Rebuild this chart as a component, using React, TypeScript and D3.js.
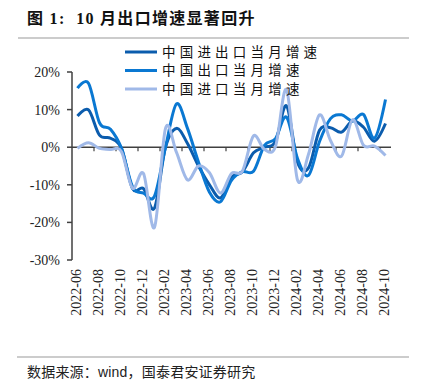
import React from "react";
import * as d3 from "d3";

const months = [
  "2022-06","2022-07","2022-08","2022-09","2022-10","2022-11","2022-12",
  "2023-01","2023-02","2023-03","2023-04","2023-05","2023-06","2023-07",
  "2023-08","2023-09","2023-10","2023-11","2023-12","2024-01","2024-02",
  "2024-03","2024-04","2024-05","2024-06","2024-07","2024-08","2024-09","2024-10",
];
// 中国进出口当月增速
const totalTrade = [8.3, 9.9, 3.2, 2.4, -0.3, -11, -11, -16.2, 0, 5, 1, -5, -10, -13.5, -8, -6.5, -1.5, 0, 1.5, 11, -4, -5.5, 4.5, 5.2, 4, 7, 5.3, 1.6, 6.3];
// 中国出口当月增速
const exportsYoY = [15.7, 17, 6.5, 4.8, -0.3, -10.5, -12.2, -13, 0, 11.5, 5, -4, -12, -14.5, -8.8, -6.5, -6.4, 0.5, 2.3, 8, -3, -7.5, 1.5, 7.6, 8.6, 7, 8.7, 2.4, 12.7];
// 中国进口当月增速
const importsYoY = [-0.3, 1.2, -0.3, -0.6, -1.2, -10.9, -7, -21.3, 5, -1.4, -8.7, -5, -6.8, -12.2, -7, -6.3, 3, -0.6, 0.2, 15.3, -8.7, -1.9, 8.6, 1.8, -2.4, 7.3, 0.5, 0.3, -2.2];
const yTicks = [20, 10, 0, -10, -20, -30];
const seriesNames = ["中国进出口当月增速", "中国出口当月增速", "中国进口当月增速"];
const seriesColors = ["#0B5CAD", "#0A78D2", "#A0B9E8"];

export default function App() {
  const W = 433, H = 380;
  const x = d3.scaleBand<string>().domain(months).range([72, 391]).padding(0);
  const y = d3.scaleLinear().domain([-30, 20]).range([260, 72]);
  const cx = (m: string) => (x(m) as number) + x.bandwidth() / 2;
  const line = d3.line<number>()
    .x((_, i) => cx(months[i]))
    .y((v) => y(v))
    .curve(d3.curveCardinal.tension(0));
  const data = [totalTrade, exportsYoY, importsYoY];
  const serif = "'Liberation Serif', 'Times New Roman', serif";
  const cjk = "'Noto Sans CJK SC', sans-serif";
  const axisColor = "#404040";
  const x0 = x.range()[0], x1 = x.range()[1];
  const tickBoundaries = d3.range(2, months.length, 2).map((i) => x0 + i * x.bandwidth());
  const labelMonths = months.filter((_, i) => i % 2 === 0);

  return (
    <svg width={W} height={H} style={{ position: "absolute", left: 0, top: 0, background: "#fff" }}>
      <text x={27} y={24} fontFamily={`${serif}, ${cjk}`} fontWeight="bold" fontSize={16} fill="#111"
        style={{ whiteSpace: "pre", letterSpacing: "1.3px" }}>
        {"图 1:  10 月出口增速显著回升"}
      </text>
      <line x1={18} x2={409} y1={38} y2={38} stroke="#999" strokeWidth={1} />

      {/* y axis */}
      <line x1={72} x2={72} y1={y(20)} y2={y(-30)} stroke={axisColor} strokeWidth={1.5} />
      {yTicks.map((t) => (
        <g key={t}>
          <line x1={67} x2={72} y1={y(t)} y2={y(t)} stroke={axisColor} strokeWidth={1.5} />
          <text x={60} y={y(t)} dy="0.35em" textAnchor="end" fontFamily={serif} fontSize={14} fill="#222">
            {`${t}%`}
          </text>
        </g>
      ))}
      {/* x axis at 0 */}
      <line x1={x0} x2={x1} y1={y(0)} y2={y(0)} stroke={axisColor} strokeWidth={1.5} />
      {tickBoundaries.map((bx, i) => (
        <line key={i} x1={bx} x2={bx} y1={y(0)} y2={y(0) + 4} stroke={axisColor} strokeWidth={1.2} />
      ))}
      {labelMonths.map((m) => (
        <text key={m} transform={`translate(${cx(m) - 1},269) rotate(-90)`} dy="0.35em" textAnchor="end"
          fontFamily={serif} fontSize={14} fill="#222">{m}</text>
      ))}

      {/* lines */}
      {data.map((d, k) => (
        <path key={k} d={line(d) as string} fill="none" stroke={seriesColors[k]} strokeWidth={3} strokeLinejoin="round" />
      ))}

      {/* legend */}
      {seriesNames.map((n, k) => (
        <g key={n} transform={`translate(0, ${52 + k * 18.5})`}>
          <line x1={125} x2={157} y1={0} y2={0} stroke={seriesColors[k]} strokeWidth={3} />
          <text x={162} y={0} dy="0.35em" fontFamily={cjk} fontSize={13.5} fill="#111"
            style={{ letterSpacing: "4.2px" }}>{n}</text>
        </g>
      ))}

      <line x1={17} x2={409} y1={357} y2={357} stroke="#999" strokeWidth={1} />
      <text x={27} y={372} dy="0.35em" fontFamily={`'Liberation Sans', Arial, ${cjk}`} fontSize={14} fill="#222"
        style={{ letterSpacing: "0.2px" }}>
        {"数据来源：wind，国泰君安证券研究"}
      </text>
    </svg>
  );
}
